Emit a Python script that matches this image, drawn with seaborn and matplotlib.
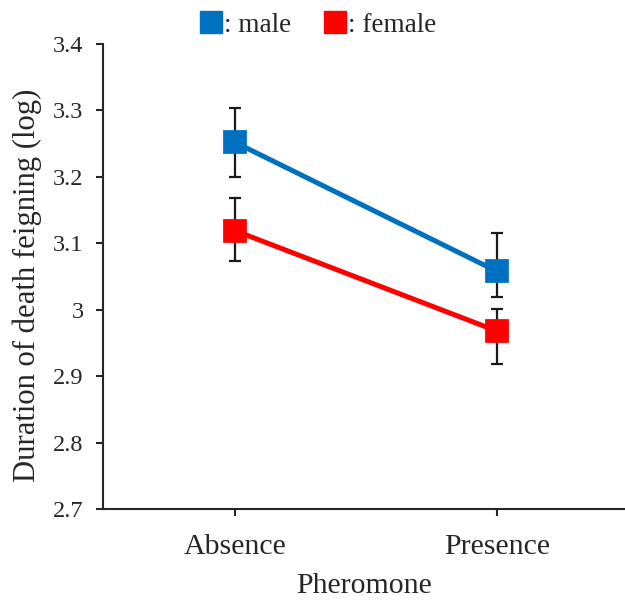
import matplotlib
matplotlib.use("Agg")
import matplotlib.pyplot as plt
import seaborn as sns
import pandas as pd
from matplotlib.lines import Line2D

categories = ["Absence", "Presence"]
sexes = ["male", "female"]
male_mean = [3.252, 3.058]
male_err_low = [0.052, 0.039]
male_err_high = [0.052, 0.057]
female_mean = [3.119, 2.968]
female_err_low = [0.045, 0.050]
female_err_high = [0.049, 0.033]
ytick_labels = ["2.7", "2.8", "2.9", "3", "3.1", "3.2", "3.3", "3.4"]
colors = {"male": "#0070C0", "female": "#FF0000"}

df = pd.DataFrame({
    "Pheromone": categories * 2,
    "sex": ["male"] * 2 + ["female"] * 2,
    "value": male_mean + female_mean,
    "err_low": male_err_low + female_err_low,
    "err_high": male_err_high + female_err_high,
})

sns.set_theme(style="white")
plt.rcParams["font.family"] = ["Liberation Serif", "DejaVu Serif"]

fig = plt.figure(figsize=(6.25, 6.01), dpi=100)
ax = fig.add_axes([0.1648, 0.1531, 0.835, 0.7737])

# error bars behind the markers
for s in sexes:
    sub = df[df["sex"] == s]
    ax.errorbar(range(len(categories)), sub["value"],
                yerr=[sub["err_low"].values, sub["err_high"].values], fmt="none",
                ecolor="#1a1a1a", elinewidth=1.6, capsize=4.5, capthick=1.6, zorder=1)

sns.pointplot(data=df, x="Pheromone", y="value", hue="sex", hue_order=sexes,
              order=categories, palette=colors, markers="s", linestyles="-",
              errorbar=None, ax=ax, legend=False,
              markersize=14, linewidth=3.6)
for ln in ax.lines:
    ln.set_zorder(3)

ax.set_xlim(-0.504, 1.49)
ax.set_ylim(2.7, 3.4)
ax.set_yticks([float(t) for t in ytick_labels])
ax.set_yticklabels(ytick_labels)
ax.set_xlabel("Pheromone", fontsize=21.5, va="top")
ax.set_ylabel("Duration of death feigning (log)", fontsize=22.1)
ax.xaxis.set_label_coords(0.5, -0.138)
ax.yaxis.set_label_coords(-0.117, 0.482)
ax.tick_params(axis="both", direction="out", length=5, width=1.5,
               color="#262626", left=True, bottom=True)
ax.tick_params(axis="x", labelsize=21.5, pad=13)
ax.tick_params(axis="y", labelsize=17.5, pad=9)
for sp in ["top", "right"]:
    ax.spines[sp].set_visible(False)
for sp in ["left", "bottom"]:
    ax.spines[sp].set_linewidth(1.5)
    ax.spines[sp].set_color("#262626")
ax.grid(False)

handles = [Line2D([], [], marker="s", linestyle="none", markersize=15.5,
                  markerfacecolor=colors[s], markeredgecolor=colors[s]) for s in sexes]
fig.legend(handles, [": male", ": female"], loc="center", bbox_to_anchor=(0.507, 0.958),
           ncol=2, frameon=False, fontsize=19.5, handletextpad=0.0,
           columnspacing=1.1, handlelength=1.0)

fig.savefig("out.png", dpi=100)
